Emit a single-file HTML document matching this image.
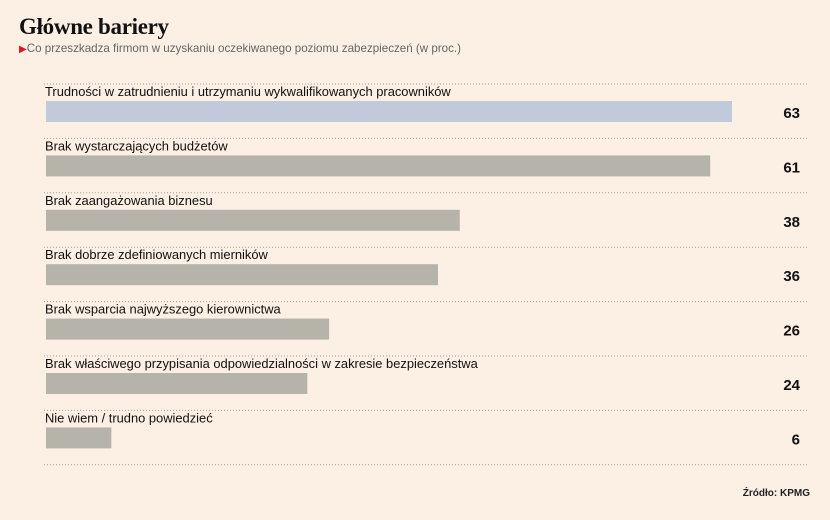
<!DOCTYPE html>
<html><head><meta charset="utf-8"><style>
body{margin:0;background:#fcefe3;width:830px;height:520px;overflow:hidden;position:relative;font-family:"Liberation Sans",sans-serif}
.t{position:absolute;left:19px;top:14px;font:bold 23px "Liberation Serif",serif;color:#111;letter-spacing:-0.3px}
.s{position:absolute;left:19px;top:42px;font-size:11.6px;color:#666}
.s span{color:#e0141e;font-size:10px}
.src{position:absolute;right:20px;top:488px;font-size:10px;font-weight:bold;color:#222}
</style></head><body>
<div class="t">Główne bariery</div>
<div class="s"><span>▶</span>Co przeszkadza firmom w uzyskaniu oczekiwanego poziomu zabezpieczeń (w proc.)</div>
<svg id="c" width="830" height="520" style="position:absolute;left:0;top:0"></svg>
<div class="src">Źródło: KPMG</div>
<script>
const categories=["Trudności w zatrudnieniu i utrzymaniu wykwalifikowanych pracowników","Brak wystarczających budżetów","Brak zaangażowania biznesu","Brak dobrze zdefiniowanych mierników","Brak wsparcia najwyższego kierownictwa","Brak właściwego przypisania odpowiedzialności w zakresie bezpieczeństwa","Nie wiem / trudno powiedzieć"];
const values=[63,61,38,36,26,24,6];
const NS="http://www.w3.org/2000/svg";
const svg=document.getElementById('c');
const x=v=>46+v*(686/63);
const rowY=i=>84+i*54.4;
function mk(t,a){const e=document.createElementNS(NS,t);for(const k in a)e.setAttribute(k,a[k]);svg.appendChild(e);return e;}
for(let i=0;i<=categories.length;i++){
  const l=mk('line',{x1:44,x2:808,y1:rowY(i),y2:rowY(i),stroke:'#a89f98','stroke-width':1,'stroke-dasharray':'1 2'});
  
  
}
categories.forEach((c,i)=>{
  const y=rowY(i);
  const lb=mk('text',{x:45,y:y+12,'font-size':12.9,fill:'#111','font-family':'Liberation Sans, sans-serif'});
  lb.textContent=c;
  
  
  const b=mk('rect',{x:46,y:y+17,width:x(values[i])-46,height:21,fill:i===0?'#c0cada':'#b6b3aa'});
  
  
  const v=mk('text',{x:800,y:y+34,'font-size':15,'font-weight':'bold','text-anchor':'end',fill:'#111','font-family':'Liberation Sans, sans-serif'});
  v.textContent=values[i];
  
  
});
</script>
</body></html>
